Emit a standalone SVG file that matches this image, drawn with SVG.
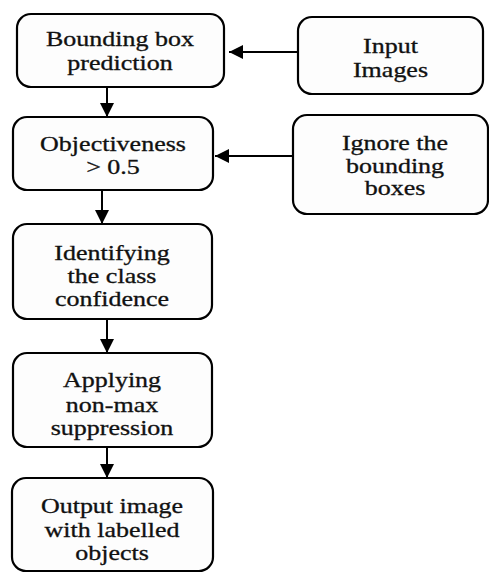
<svg xmlns="http://www.w3.org/2000/svg" width="489" height="573" viewBox="0 0 489 573">
<style>
.box{fill:#fdfdfd;stroke:#000;stroke-width:2.2}
.t{font-family:"Liberation Serif","Times New Roman",serif;font-size:20px;fill:#111;stroke:#111;stroke-width:0.3;text-anchor:middle}
.c{stroke:#000;stroke-width:2;fill:none}
</style>
<defs>
<marker id="ah" markerUnits="userSpaceOnUse" markerWidth="16" markerHeight="16" refX="14" refY="7" orient="auto">
<path d="M0,0 L14,7 L0,14 Z" fill="#000"/>
</marker>
</defs>
<rect width="489" height="573" fill="#fff"/>
<g id="connectors">
<line class="c" x1="298" y1="52" x2="229" y2="52" marker-end="url(#ah)"/>
<line class="c" x1="293" y1="156" x2="215" y2="156" marker-end="url(#ah)"/>
<line class="c" x1="107" y1="87" x2="107" y2="117" marker-end="url(#ah)"/>
<line class="c" x1="102" y1="190" x2="102" y2="224" marker-end="url(#ah)"/>
<line class="c" x1="107" y1="319" x2="107" y2="353" marker-end="url(#ah)"/>
<line class="c" x1="107" y1="447" x2="107" y2="478" marker-end="url(#ah)"/>
</g>
<g id="bbox">
<rect class="box" x="17" y="14" width="207" height="73" rx="14"/>
<text class="t" transform="matrix(1.3 0 0 1 120 0)"><tspan x="0" y="46">Bounding box</tspan><tspan x="0" y="70">prediction</tspan></text>
</g>
<g id="input">
<rect class="box" x="298" y="17" width="185" height="77" rx="14"/>
<text class="t" transform="matrix(1.3 0 0 1 390.5 0)"><tspan x="0" y="53">Input</tspan><tspan x="0" y="77">Images</tspan></text>
</g>
<g id="objectiveness">
<rect class="box" x="13" y="117" width="200" height="73" rx="14"/>
<text class="t" transform="matrix(1.3 0 0 1 113 0)"><tspan x="0" y="151">Objectiveness</tspan><tspan x="0" y="174">&gt; 0.5</tspan></text>
</g>
<g id="ignore">
<rect class="box" x="293" y="115" width="195" height="99" rx="14"/>
<text class="t" transform="matrix(1.3 0 0 1 395 0)"><tspan x="0" y="150">Ignore the</tspan><tspan x="0" y="173">bounding</tspan><tspan x="0" y="195">boxes</tspan></text>
</g>
<g id="identifying">
<rect class="box" x="13" y="224" width="199" height="95" rx="14"/>
<text class="t" transform="matrix(1.3 0 0 1 112 0)"><tspan x="0" y="260">Identifying</tspan><tspan x="0" y="283">the class</tspan><tspan x="0" y="306">confidence</tspan></text>
</g>
<g id="applying">
<rect class="box" x="13" y="353" width="199" height="94" rx="14"/>
<text class="t" transform="matrix(1.3 0 0 1 112 0)"><tspan x="0" y="387">Applying</tspan><tspan x="0" y="412">non-max</tspan><tspan x="0" y="435">suppression</tspan></text>
</g>
<g id="output">
<rect class="box" x="12" y="478" width="201" height="93" rx="14"/>
<text class="t" transform="matrix(1.3 0 0 1 112 0)"><tspan x="0" y="513">Output image</tspan><tspan x="0" y="537">with labelled</tspan><tspan x="0" y="560">objects</tspan></text>
</g>
</svg>
